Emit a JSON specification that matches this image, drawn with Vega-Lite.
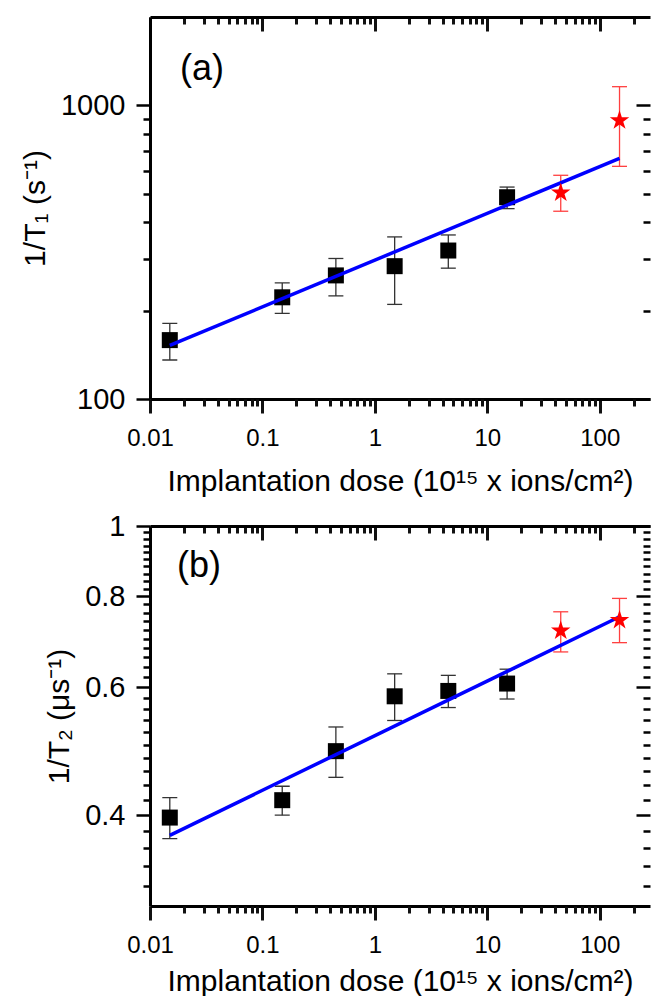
{
  "$schema": "https://vega.github.io/schema/vega-lite/v6.json",
  "background": "white",
  "padding": {"left": 20, "top": 15, "right": 0, "bottom": 0},
  "spacing": 16,
  "config": {
    "view": {"stroke": null},
    "font": "Liberation Sans",
    "axis": {
      "grid": false,
      "domainColor": "black",
      "domainWidth": 3,
      "tickColor": "black",
      "tickWidth": 2.5,
      "labelColor": "black",
      "labelFont": "Liberation Sans",
      "labelFlush": false,
      "labelOverlap": false,
      "titleColor": "black",
      "titleFont": "Liberation Sans",
      "titleFontWeight": "normal",
      "titleFontSize": 30
    }
  },
  "datasets": {
    "t1": [
      {"dose": 0.015, "rate": 158.7, "lo": 135.8, "hi": 180.9, "group": "A"},
      {"dose": 0.15, "rate": 222, "lo": 195.6, "hi": 248.6, "group": "A"},
      {"dose": 0.45, "rate": 263.6, "lo": 224.5, "hi": 301, "group": "A"},
      {"dose": 1.5, "rate": 283.4, "lo": 210, "hi": 356.5, "group": "A"},
      {"dose": 4.5, "rate": 320.4, "lo": 279, "hi": 362, "group": "A"},
      {"dose": 15, "rate": 486.6, "lo": 445, "hi": 527, "group": "A"},
      {"dose": 45, "rate": 504, "lo": 436, "hi": 578, "group": "B"},
      {"dose": 150, "rate": 888, "lo": 620, "hi": 1158, "group": "B"}
    ],
    "t1fit": [
      {"dose": 0.015, "rate": 152.2},
      {"dose": 150, "rate": 660}
    ],
    "t2": [
      {"dose": 0.015, "rate": 0.397, "lo": 0.3713, "hi": 0.423, "group": "A"},
      {"dose": 0.15, "rate": 0.4195, "lo": 0.4, "hi": 0.4384, "group": "A"},
      {"dose": 0.45, "rate": 0.49, "lo": 0.451, "hi": 0.529, "group": "A"},
      {"dose": 1.5, "rate": 0.583, "lo": 0.54, "hi": 0.626, "group": "A"},
      {"dose": 4.5, "rate": 0.593, "lo": 0.5626, "hi": 0.623, "group": "A"},
      {"dose": 15, "rate": 0.607, "lo": 0.578, "hi": 0.6353, "group": "A"},
      {"dose": 45, "rate": 0.7175, "lo": 0.671, "hi": 0.762, "group": "B"},
      {"dose": 150, "rate": 0.742, "lo": 0.691, "hi": 0.795, "group": "B"}
    ],
    "t2fit": [
      {"dose": 0.015, "rate": 0.3753},
      {"dose": 150, "rate": 0.75}
    ]
  },
  "vconcat": [
    {
      "width": 500,
      "height": 382,
      "data": {"name": "t1"},
      "resolve": {"axis": {"x": "independent", "y": "independent"}},
      "layer": [
        {
          "data": {"name": "t1fit"},
          "mark": {"type": "point", "opacity": 0},
          "encoding": {
            "x": {"field": "dose", "type": "quantitative", "scale": {"type": "log", "domain": [0.01, 280], "nice": false},
              "axis": {"orient": "bottom", "values": [0.01, 0.1, 1, 10, 100], "format": "~g",
                "labelFontSize": 24, "labelPadding": 13, "tickSize": 14, "tickWidth": 3, "tickColor": "#111111",
                "title": "Implantation dose (10¹⁵ x ions/cm²)", "titlePadding": 16}},
            "y": {"field": "rate", "type": "quantitative", "scale": {"type": "log", "domain": [100, 2000], "nice": false},
              "axis": {"orient": "left", "values": [100, 1000], "format": "~g",
                "labelFontSize": 29, "labelPadding": 11, "tickSize": 14,
                "title": "1/T₁ (s⁻¹)", "titlePadding": 10}}
          }
        },
        {
          "data": {"name": "t1fit"},
          "mark": {"type": "point", "opacity": 0},
          "encoding": {
            "x": {"field": "dose", "type": "quantitative",
              "axis": {"orient": "bottom", "values": [0.02,0.03,0.04,0.05,0.06,0.07,0.08,0.09,0.2,0.3,0.4,0.5,0.6,0.7,0.8,0.9,2,3,4,5,6,7,8,9,20,30,40,50,60,70,80,90,200],
                "labels": false, "domain": false, "tickSize": 7, "tickWidth": 3, "tickColor": "#111111", "title": null}},
            "y": {"field": "rate", "type": "quantitative",
              "axis": {"orient": "left", "values": [200,300,400,500,600,700,800,900],
                "labels": false, "domain": false, "tickSize": 7, "title": null}}
          }
        },
        {
          "data": {"name": "t1fit"},
          "mark": {"type": "point", "opacity": 0},
          "encoding": {
            "x": {"field": "dose", "type": "quantitative",
              "axis": {"orient": "top", "offset": -14, "values": [0.01, 0.1, 1, 10, 100],
                "labels": false, "domain": false, "tickSize": 14, "tickWidth": 3, "tickColor": "#111111", "title": null}},
            "y": {"field": "rate", "type": "quantitative",
              "axis": {"orient": "right", "values": [100, 1000],
                "labels": false, "domain": false, "tickSize": -14, "title": null}}
          }
        },
        {
          "data": {"name": "t1fit"},
          "mark": {"type": "point", "opacity": 0},
          "encoding": {
            "x": {"field": "dose", "type": "quantitative",
              "axis": {"orient": "top", "offset": -7, "values": [0.02,0.03,0.04,0.05,0.06,0.07,0.08,0.09,0.2,0.3,0.4,0.5,0.6,0.7,0.8,0.9,2,3,4,5,6,7,8,9,20,30,40,50,60,70,80,90,200],
                "labels": false, "domain": false, "tickSize": 7, "tickWidth": 3, "tickColor": "#111111", "title": null}},
            "y": {"field": "rate", "type": "quantitative",
              "axis": {"orient": "right", "values": [200,300,400,500,600,700,800,900],
                "labels": false, "domain": false, "tickSize": -7, "title": null}}
          }
        },
        {
          "data": {"name": "t1fit"},
          "mark": {"type": "point", "opacity": 0},
          "encoding": {
            "x": {"field": "dose", "type": "quantitative",
              "axis": {"orient": "top", "values": [0.01, 100], "labels": false, "ticks": false, "domain": true, "title": null}},
            "y": {"field": "rate", "type": "quantitative", "axis": null}
          }
        },
        {
          "mark": {"type": "rule", "strokeWidth": 1.3},
          "encoding": {
            "x": {"field": "dose", "type": "quantitative", "axis": null},
            "y": {"field": "lo", "type": "quantitative", "axis": null},
            "y2": {"field": "hi"},
            "color": {"field": "group", "type": "nominal", "scale": {"domain": ["A", "B"], "range": ["#333333", "#ff4040"]}, "legend": null}
          }
        },
        {
          "mark": {"type": "tick", "orient": "horizontal", "size": 15, "thickness": 1.3, "opacity": 1},
          "encoding": {
            "x": {"field": "dose", "type": "quantitative", "axis": null},
            "y": {"field": "lo", "type": "quantitative", "axis": null},
            "color": {"field": "group", "type": "nominal", "scale": {"domain": ["A", "B"], "range": ["#333333", "#ff4040"]}, "legend": null}
          }
        },
        {
          "mark": {"type": "tick", "orient": "horizontal", "size": 15, "thickness": 1.3, "opacity": 1},
          "encoding": {
            "x": {"field": "dose", "type": "quantitative", "axis": null},
            "y": {"field": "hi", "type": "quantitative", "axis": null},
            "color": {"field": "group", "type": "nominal", "scale": {"domain": ["A", "B"], "range": ["#333333", "#ff4040"]}, "legend": null}
          }
        },
        {
          "transform": [{"filter": "datum.group === 'A'"}],
          "mark": {"type": "point", "shape": "square", "filled": true, "size": 256, "color": "black", "opacity": 1},
          "encoding": {
            "x": {"field": "dose", "type": "quantitative", "axis": null},
            "y": {"field": "rate", "type": "quantitative", "axis": null}
          }
        },
        {
          "data": {"name": "t1fit"},
          "mark": {"type": "line", "color": "#0000ff", "strokeWidth": 3.5},
          "encoding": {
            "x": {"field": "dose", "type": "quantitative", "axis": null},
            "y": {"field": "rate", "type": "quantitative", "axis": null}
          }
        },
        {
          "transform": [{"filter": "datum.group === 'B'"}],
          "mark": {"type": "point", "shape": "M0,-1L0.2245,-0.309L0.951,-0.309L0.3633,0.118L0.5878,0.809L0,0.382L-0.5878,0.809L-0.3633,0.118L-0.951,-0.309L-0.2245,-0.309Z", "filled": true, "size": 420, "color": "#ff0000", "opacity": 1},
          "encoding": {
            "x": {"field": "dose", "type": "quantitative", "axis": null},
            "y": {"field": "rate", "type": "quantitative", "axis": null}
          }
        },
        {
          "data": {"values": [{"panel": "a"}]},
          "mark": {"type": "text", "fontSize": 36, "color": "black", "align": "center", "baseline": "middle"},
          "encoding": {
            "x": {"datum": 0.029, "type": "quantitative", "axis": null},
            "y": {"datum": 1330, "type": "quantitative", "axis": null},
            "text": {"value": "(a)"}
          }
        }
      ]
    },
    {
      "width": 500,
      "height": 380,
      "data": {"name": "t2"},
      "resolve": {"axis": {"x": "independent", "y": "independent"}},
      "layer": [
        {
          "data": {"name": "t2fit"},
          "mark": {"type": "point", "opacity": 0},
          "encoding": {
            "x": {"field": "dose", "type": "quantitative", "scale": {"type": "log", "domain": [0.01, 280], "nice": false},
              "axis": {"orient": "bottom", "values": [0.01, 0.1, 1, 10, 100], "format": "~g",
                "labelFontSize": 24, "labelPadding": 13, "tickSize": 14, "tickWidth": 3, "tickColor": "#111111",
                "title": "Implantation dose (10¹⁵ x ions/cm²)", "titlePadding": 9}},
            "y": {"field": "rate", "type": "quantitative", "scale": {"type": "log", "domain": [0.3, 1], "nice": false},
              "axis": {"orient": "left", "values": [0.4, 0.6, 0.8, 1], "format": "~g",
                "labelFontSize": 29, "labelPadding": 11, "tickSize": 14,
                "title": "1/T₂ (μs⁻¹)", "titlePadding": 10}}
          }
        },
        {
          "data": {"name": "t2fit"},
          "mark": {"type": "point", "opacity": 0},
          "encoding": {
            "x": {"field": "dose", "type": "quantitative",
              "axis": {"orient": "bottom", "values": [0.02,0.03,0.04,0.05,0.06,0.07,0.08,0.09,0.2,0.3,0.4,0.5,0.6,0.7,0.8,0.9,2,3,4,5,6,7,8,9,20,30,40,50,60,70,80,90,200],
                "labels": false, "domain": false, "tickSize": 7, "tickWidth": 3, "tickColor": "#111111", "title": null}},
            "y": {"field": "rate", "type": "quantitative",
              "axis": {"orient": "left", "values": [0.32,0.34,0.36,0.38,0.42,0.44,0.46,0.48,0.5,0.52,0.54,0.56,0.58,0.62,0.64,0.66,0.68,0.7,0.72,0.74,0.76,0.78,0.82,0.84,0.86,0.88,0.9,0.92,0.94,0.96,0.98],
                "labels": false, "domain": false, "tickSize": 7, "title": null}}
          }
        },
        {
          "data": {"name": "t2fit"},
          "mark": {"type": "point", "opacity": 0},
          "encoding": {
            "x": {"field": "dose", "type": "quantitative",
              "axis": {"orient": "top", "offset": -14, "values": [0.01, 0.1, 1, 10, 100],
                "labels": false, "domain": false, "tickSize": 14, "tickWidth": 3, "tickColor": "#111111", "title": null}},
            "y": {"field": "rate", "type": "quantitative",
              "axis": {"orient": "right", "values": [0.4, 0.6, 0.8, 1],
                "labels": false, "domain": false, "tickSize": -14, "title": null}}
          }
        },
        {
          "data": {"name": "t2fit"},
          "mark": {"type": "point", "opacity": 0},
          "encoding": {
            "x": {"field": "dose", "type": "quantitative",
              "axis": {"orient": "top", "offset": -7, "values": [0.02,0.03,0.04,0.05,0.06,0.07,0.08,0.09,0.2,0.3,0.4,0.5,0.6,0.7,0.8,0.9,2,3,4,5,6,7,8,9,20,30,40,50,60,70,80,90,200],
                "labels": false, "domain": false, "tickSize": 7, "tickWidth": 3, "tickColor": "#111111", "title": null}},
            "y": {"field": "rate", "type": "quantitative",
              "axis": {"orient": "right", "values": [0.32,0.34,0.36,0.38,0.42,0.44,0.46,0.48,0.5,0.52,0.54,0.56,0.58,0.62,0.64,0.66,0.68,0.7,0.72,0.74,0.76,0.78,0.82,0.84,0.86,0.88,0.9,0.92,0.94,0.96,0.98],
                "labels": false, "domain": false, "tickSize": -7, "title": null}}
          }
        },
        {
          "data": {"name": "t2fit"},
          "mark": {"type": "point", "opacity": 0},
          "encoding": {
            "x": {"field": "dose", "type": "quantitative",
              "axis": {"orient": "top", "values": [0.01, 100], "labels": false, "ticks": false, "domain": true, "title": null}},
            "y": {"field": "rate", "type": "quantitative", "axis": null}
          }
        },
        {
          "mark": {"type": "rule", "strokeWidth": 1.3},
          "encoding": {
            "x": {"field": "dose", "type": "quantitative", "axis": null},
            "y": {"field": "lo", "type": "quantitative", "axis": null},
            "y2": {"field": "hi"},
            "color": {"field": "group", "type": "nominal", "scale": {"domain": ["A", "B"], "range": ["#333333", "#ff4040"]}, "legend": null}
          }
        },
        {
          "mark": {"type": "tick", "orient": "horizontal", "size": 15, "thickness": 1.3, "opacity": 1},
          "encoding": {
            "x": {"field": "dose", "type": "quantitative", "axis": null},
            "y": {"field": "lo", "type": "quantitative", "axis": null},
            "color": {"field": "group", "type": "nominal", "scale": {"domain": ["A", "B"], "range": ["#333333", "#ff4040"]}, "legend": null}
          }
        },
        {
          "mark": {"type": "tick", "orient": "horizontal", "size": 15, "thickness": 1.3, "opacity": 1},
          "encoding": {
            "x": {"field": "dose", "type": "quantitative", "axis": null},
            "y": {"field": "hi", "type": "quantitative", "axis": null},
            "color": {"field": "group", "type": "nominal", "scale": {"domain": ["A", "B"], "range": ["#333333", "#ff4040"]}, "legend": null}
          }
        },
        {
          "transform": [{"filter": "datum.group === 'A'"}],
          "mark": {"type": "point", "shape": "square", "filled": true, "size": 256, "color": "black", "opacity": 1},
          "encoding": {
            "x": {"field": "dose", "type": "quantitative", "axis": null},
            "y": {"field": "rate", "type": "quantitative", "axis": null}
          }
        },
        {
          "data": {"name": "t2fit"},
          "mark": {"type": "line", "color": "#0000ff", "strokeWidth": 3.5},
          "encoding": {
            "x": {"field": "dose", "type": "quantitative", "axis": null},
            "y": {"field": "rate", "type": "quantitative", "axis": null}
          }
        },
        {
          "transform": [{"filter": "datum.group === 'B'"}],
          "mark": {"type": "point", "shape": "M0,-1L0.2245,-0.309L0.951,-0.309L0.3633,0.118L0.5878,0.809L0,0.382L-0.5878,0.809L-0.3633,0.118L-0.951,-0.309L-0.2245,-0.309Z", "filled": true, "size": 420, "color": "#ff0000", "opacity": 1},
          "encoding": {
            "x": {"field": "dose", "type": "quantitative", "axis": null},
            "y": {"field": "rate", "type": "quantitative", "axis": null}
          }
        },
        {
          "data": {"values": [{"panel": "b"}]},
          "mark": {"type": "text", "fontSize": 36, "color": "black", "align": "center", "baseline": "middle"},
          "encoding": {
            "x": {"datum": 0.0273, "type": "quantitative", "axis": null},
            "y": {"datum": 0.881, "type": "quantitative", "axis": null},
            "text": {"value": "(b)"}
          }
        }
      ]
    }
  ]
}
